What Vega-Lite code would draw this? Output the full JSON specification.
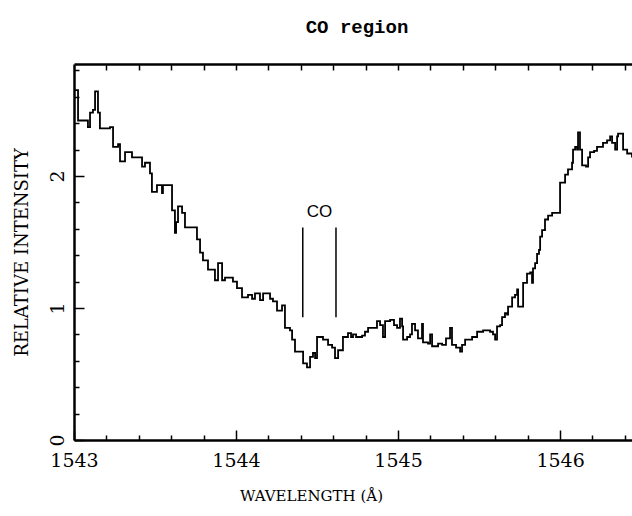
{
  "$schema": "https://vega.github.io/schema/vega-lite/v6.json",
  "autosize": {"type": "none"},
  "width": 558,
  "height": 376,
  "padding": {"left": 74, "top": 64, "right": 0, "bottom": 76},
  "background": "white",
  "config": {"view": {"stroke": null}},
  "title": {"text": "CO region", "font": "Liberation Mono", "fontSize": 19, "fontWeight": "bold", "color": "black", "offset": 26, "anchor": "middle", "dx": 4},
  "datasets": {
    "spectrum": [
      {"wl": 1543.000, "intensity": 2.65},
      {"wl": 1543.025, "intensity": 2.42},
      {"wl": 1543.074, "intensity": 2.42},
      {"wl": 1543.086, "intensity": 2.37},
      {"wl": 1543.099, "intensity": 2.48},
      {"wl": 1543.117, "intensity": 2.50},
      {"wl": 1543.130, "intensity": 2.64},
      {"wl": 1543.148, "intensity": 2.48},
      {"wl": 1543.160, "intensity": 2.36},
      {"wl": 1543.222, "intensity": 2.37},
      {"wl": 1543.241, "intensity": 2.22},
      {"wl": 1543.272, "intensity": 2.24},
      {"wl": 1543.284, "intensity": 2.11},
      {"wl": 1543.315, "intensity": 2.18},
      {"wl": 1543.358, "intensity": 2.14},
      {"wl": 1543.420, "intensity": 2.07},
      {"wl": 1543.438, "intensity": 2.10},
      {"wl": 1543.469, "intensity": 2.02},
      {"wl": 1543.481, "intensity": 1.88},
      {"wl": 1543.512, "intensity": 1.93},
      {"wl": 1543.543, "intensity": 1.87},
      {"wl": 1543.549, "intensity": 1.93},
      {"wl": 1543.605, "intensity": 1.74},
      {"wl": 1543.623, "intensity": 1.57},
      {"wl": 1543.630, "intensity": 1.65},
      {"wl": 1543.642, "intensity": 1.77},
      {"wl": 1543.667, "intensity": 1.72},
      {"wl": 1543.685, "intensity": 1.61},
      {"wl": 1543.759, "intensity": 1.52},
      {"wl": 1543.778, "intensity": 1.42},
      {"wl": 1543.796, "intensity": 1.36},
      {"wl": 1543.827, "intensity": 1.29},
      {"wl": 1543.870, "intensity": 1.21},
      {"wl": 1543.889, "intensity": 1.34},
      {"wl": 1543.914, "intensity": 1.21},
      {"wl": 1543.932, "intensity": 1.23},
      {"wl": 1543.981, "intensity": 1.20},
      {"wl": 1544.006, "intensity": 1.15},
      {"wl": 1544.037, "intensity": 1.08},
      {"wl": 1544.074, "intensity": 1.10},
      {"wl": 1544.099, "intensity": 1.07},
      {"wl": 1544.117, "intensity": 1.11},
      {"wl": 1544.148, "intensity": 1.06},
      {"wl": 1544.167, "intensity": 1.11},
      {"wl": 1544.210, "intensity": 1.07},
      {"wl": 1544.228, "intensity": 1.05},
      {"wl": 1544.253, "intensity": 0.98},
      {"wl": 1544.284, "intensity": 1.02},
      {"wl": 1544.302, "intensity": 0.85},
      {"wl": 1544.333, "intensity": 0.83},
      {"wl": 1544.346, "intensity": 0.76},
      {"wl": 1544.364, "intensity": 0.67},
      {"wl": 1544.414, "intensity": 0.58},
      {"wl": 1544.438, "intensity": 0.55},
      {"wl": 1544.457, "intensity": 0.63},
      {"wl": 1544.475, "intensity": 0.66},
      {"wl": 1544.488, "intensity": 0.62},
      {"wl": 1544.500, "intensity": 0.78},
      {"wl": 1544.537, "intensity": 0.76},
      {"wl": 1544.568, "intensity": 0.72},
      {"wl": 1544.593, "intensity": 0.70},
      {"wl": 1544.611, "intensity": 0.62},
      {"wl": 1544.630, "intensity": 0.68},
      {"wl": 1544.660, "intensity": 0.78},
      {"wl": 1544.691, "intensity": 0.81},
      {"wl": 1544.710, "intensity": 0.78},
      {"wl": 1544.722, "intensity": 0.80},
      {"wl": 1544.741, "intensity": 0.78},
      {"wl": 1544.778, "intensity": 0.79},
      {"wl": 1544.796, "intensity": 0.82},
      {"wl": 1544.815, "intensity": 0.85},
      {"wl": 1544.870, "intensity": 0.90},
      {"wl": 1544.889, "intensity": 0.87},
      {"wl": 1544.907, "intensity": 0.78},
      {"wl": 1544.920, "intensity": 0.90},
      {"wl": 1544.951, "intensity": 0.91},
      {"wl": 1544.975, "intensity": 0.87},
      {"wl": 1544.994, "intensity": 0.85},
      {"wl": 1545.012, "intensity": 0.92},
      {"wl": 1545.025, "intensity": 0.86},
      {"wl": 1545.031, "intensity": 0.76},
      {"wl": 1545.056, "intensity": 0.78},
      {"wl": 1545.074, "intensity": 0.80},
      {"wl": 1545.086, "intensity": 0.88},
      {"wl": 1545.105, "intensity": 0.83},
      {"wl": 1545.123, "intensity": 0.77},
      {"wl": 1545.148, "intensity": 0.88},
      {"wl": 1545.154, "intensity": 0.74},
      {"wl": 1545.185, "intensity": 0.73},
      {"wl": 1545.198, "intensity": 0.80},
      {"wl": 1545.210, "intensity": 0.71},
      {"wl": 1545.247, "intensity": 0.73},
      {"wl": 1545.272, "intensity": 0.72},
      {"wl": 1545.296, "intensity": 0.77},
      {"wl": 1545.321, "intensity": 0.85},
      {"wl": 1545.333, "intensity": 0.72},
      {"wl": 1545.358, "intensity": 0.70},
      {"wl": 1545.383, "intensity": 0.67},
      {"wl": 1545.395, "intensity": 0.72},
      {"wl": 1545.414, "intensity": 0.76},
      {"wl": 1545.457, "intensity": 0.78},
      {"wl": 1545.488, "intensity": 0.82},
      {"wl": 1545.525, "intensity": 0.83},
      {"wl": 1545.568, "intensity": 0.82},
      {"wl": 1545.586, "intensity": 0.80},
      {"wl": 1545.599, "intensity": 0.76},
      {"wl": 1545.611, "intensity": 0.86},
      {"wl": 1545.630, "intensity": 0.87},
      {"wl": 1545.642, "intensity": 0.93},
      {"wl": 1545.660, "intensity": 0.96},
      {"wl": 1545.673, "intensity": 0.95},
      {"wl": 1545.679, "intensity": 1.01},
      {"wl": 1545.704, "intensity": 1.08},
      {"wl": 1545.722, "intensity": 1.10},
      {"wl": 1545.735, "intensity": 1.14},
      {"wl": 1545.741, "intensity": 1.01},
      {"wl": 1545.765, "intensity": 1.01},
      {"wl": 1545.772, "intensity": 1.19},
      {"wl": 1545.796, "intensity": 1.26},
      {"wl": 1545.815, "intensity": 1.27},
      {"wl": 1545.827, "intensity": 1.19},
      {"wl": 1545.833, "intensity": 1.30},
      {"wl": 1545.846, "intensity": 1.34},
      {"wl": 1545.858, "intensity": 1.41},
      {"wl": 1545.870, "intensity": 1.44},
      {"wl": 1545.877, "intensity": 1.54},
      {"wl": 1545.889, "intensity": 1.59},
      {"wl": 1545.907, "intensity": 1.67},
      {"wl": 1545.926, "intensity": 1.70},
      {"wl": 1545.951, "intensity": 1.72},
      {"wl": 1545.988, "intensity": 1.72},
      {"wl": 1546.000, "intensity": 1.95},
      {"wl": 1546.025, "intensity": 1.95},
      {"wl": 1546.031, "intensity": 2.01},
      {"wl": 1546.049, "intensity": 2.05},
      {"wl": 1546.074, "intensity": 2.10},
      {"wl": 1546.080, "intensity": 2.20},
      {"wl": 1546.093, "intensity": 2.22},
      {"wl": 1546.105, "intensity": 2.20},
      {"wl": 1546.111, "intensity": 2.33},
      {"wl": 1546.123, "intensity": 2.20},
      {"wl": 1546.136, "intensity": 2.08},
      {"wl": 1546.160, "intensity": 2.07},
      {"wl": 1546.173, "intensity": 2.14},
      {"wl": 1546.185, "intensity": 2.18},
      {"wl": 1546.210, "intensity": 2.19},
      {"wl": 1546.228, "intensity": 2.22},
      {"wl": 1546.247, "intensity": 2.22},
      {"wl": 1546.265, "intensity": 2.25},
      {"wl": 1546.290, "intensity": 2.27},
      {"wl": 1546.309, "intensity": 2.30},
      {"wl": 1546.321, "intensity": 2.25},
      {"wl": 1546.340, "intensity": 2.20},
      {"wl": 1546.352, "intensity": 2.30},
      {"wl": 1546.358, "intensity": 2.32},
      {"wl": 1546.383, "intensity": 2.32},
      {"wl": 1546.389, "intensity": 2.20},
      {"wl": 1546.414, "intensity": 2.17},
      {"wl": 1546.444, "intensity": 2.14}
    ],
    "markers": [
      {"wl": 1544.412, "lo": 0.93, "hi": 1.61},
      {"wl": 1544.617, "lo": 0.93, "hi": 1.61}
    ],
    "label": [
      {"wl": 1544.515, "intensity": 1.73, "text": "CO"}
    ]
  },
  "resolve": {"scale": {"x": "shared", "y": "shared"}, "axis": {"x": "independent", "y": "independent"}},
  "layer": [
    {
      "data": {"name": "spectrum"},
      "mark": {"type": "line", "interpolate": "step-after", "color": "black", "strokeWidth": 1.8, "clip": true},
      "encoding": {
        "x": {
          "field": "wl", "type": "quantitative",
          "scale": {"domain": [1543, 1546.444], "nice": false, "zero": false},
          "axis": {
            "orient": "bottom", "values": [1543, 1544, 1545, 1546], "format": "d",
            "tickSize": -10, "tickColor": "black", "tickWidth": 1.5,
            "domain": true, "domainColor": "black", "domainWidth": 2.5,
            "grid": false, "labelPadding": 30, "labelBaseline": "middle",
            "labelFont": "DejaVu Serif", "labelFontSize": 19, "labelColor": "black", "labelFontWeight": "normal",
            "labelFlush": false,
            "title": "WAVELENGTH (Å)", "titleFont": "DejaVu Serif", "titleFontSize": 15, "titleFontWeight": "normal",
            "titleColor": "black", "titleX": 237, "titleY": 55, "titleBaseline": "middle", "titleAnchor": null, "titleAlign": "center"
          }
        },
        "y": {
          "field": "intensity", "type": "quantitative",
          "scale": {"domain": [0, 2.848], "nice": false},
          "axis": {
            "orient": "left", "values": [0, 1, 2], "format": "d",
            "tickSize": -10, "tickColor": "black", "tickWidth": 1.5,
            "domain": true, "domainColor": "black", "domainWidth": 2.5,
            "grid": false, "labelPadding": 27, "labelAngle": -90, "labelAlign": "center", "labelBaseline": "middle",
            "labelFont": "DejaVu Serif", "labelFontSize": 19, "labelColor": "black", "labelFontWeight": "normal",
            "labelFlush": false,
            "title": "RELATIVE INTENSITY", "titleFont": "DejaVu Serif", "titleFontSize": 18, "titleFontWeight": "normal",
            "titleColor": "black", "titleX": -52, "titleY": 188, "titleBaseline": "middle", "titleAlign": "center", "titleAngle": -90
          }
        }
      }
    },
    {
      "data": {"name": "markers"},
      "mark": {"type": "rule", "color": "black", "strokeWidth": 1.5},
      "encoding": {
        "x": {
          "field": "wl", "type": "quantitative",
          "axis": {
            "orient": "bottom",
            "values": [1543.2, 1543.4, 1543.6, 1543.8, 1544.2, 1544.4, 1544.6, 1544.8, 1545.2, 1545.4, 1545.6, 1545.8, 1546.2, 1546.4],
            "tickSize": -5, "tickColor": "black", "tickWidth": 1.5,
            "domain": false, "labels": false, "grid": false, "title": null
          }
        },
        "y": {
          "field": "lo", "type": "quantitative",
          "axis": {
            "orient": "left",
            "values": [0.2, 0.4, 0.6, 0.8, 1.2, 1.4, 1.6, 1.8, 2.2, 2.4, 2.6, 2.8],
            "tickSize": -5, "tickColor": "black", "tickWidth": 1.5,
            "domain": false, "labels": false, "grid": false, "title": null
          }
        },
        "y2": {"field": "hi"}
      }
    },
    {
      "data": {"name": "label"},
      "mark": {"type": "text", "font": "Liberation Sans", "fontSize": 17, "color": "black", "align": "center", "baseline": "middle"},
      "encoding": {
        "x": {
          "field": "wl", "type": "quantitative",
          "axis": {
            "orient": "top",
            "values": [1543.2, 1543.4, 1543.6, 1543.8, 1544, 1544.2, 1544.4, 1544.6, 1544.8, 1545, 1545.2, 1545.4, 1545.6, 1545.8, 1546, 1546.2, 1546.4],
            "tickSize": -6, "tickColor": "black", "tickWidth": 1.5,
            "domain": true, "domainColor": "black", "domainWidth": 2.5,
            "labels": false, "grid": false, "title": null
          }
        },
        "y": {"field": "intensity", "type": "quantitative", "axis": null},
        "text": {"field": "text"}
      }
    }
  ]
}
